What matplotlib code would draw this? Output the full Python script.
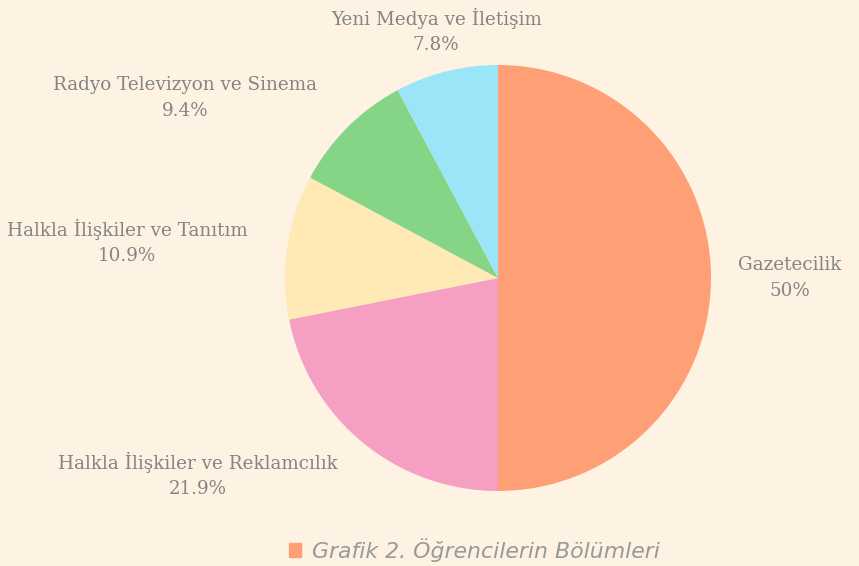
import matplotlib
matplotlib.use("Agg")
import matplotlib.pyplot as plt
from matplotlib.patches import Patch

# bölümler ve öğrenci sayıları (toplam 64)
bolumler = ['Gazetecilik', 'Halkla İlişkiler ve Reklamcılık', 'Halkla İlişkiler ve Tanıtım',
            'Radyo Televizyon ve Sinema', 'Yeni Medya ve İletişim']
ogrenci = [32, 14, 7, 6, 5]
renkler = ['#FF9F75', '#F59FC3', '#FFE9B4', '#86D485', '#9BE5F9']

# etiketlerin pasta merkezine göre konumu (yarıçap birimi)
etiket_konum = [(1.37, 0.0), (-1.41, -0.925), (-1.74, 0.17), (-1.47, 0.845), (-0.29, 1.16)]

bg = '#FEF2E3'
fig = plt.figure(figsize=(8.59, 5.66), dpi=100, facecolor=bg)
W, H = 859, 566
cx, cy, r = 498, 278, 213
ax = fig.add_axes([(cx - r) / W, (H - cy - r) / H, 2 * r / W, 2 * r / H])
ax.set_facecolor(bg)

ax.pie(ogrenci, colors=renkler, startangle=90, counterclock=False, radius=1,
       wedgeprops=dict(linewidth=0))
ax.set_xlim(-1, 1)
ax.set_ylim(-1, 1)
ax.axis('off')

toplam = sum(ogrenci)
for ad, n, (x, y) in zip(bolumler, ogrenci, etiket_konum):
    yuzde = n / toplam * 100
    s = '50%' if abs(yuzde - 50) < 1e-9 else f'{yuzde:.1f}%'
    ax.text(x, y, f'{ad}\n{s}', ha='center', va='center', fontsize=13.2,
            family='DejaVu Serif', color='#858585', linespacing=1.55, clip_on=False)

leg = fig.legend(handles=[Patch(color=renkler[0])], labels=['Grafik 2. Öğrencilerin Bölümleri'],
                 loc='center', bbox_to_anchor=(474 / W, 1 - 550 / H), frameon=False,
                 handlelength=0.55, handleheight=0.55, handletextpad=0.5,
                 prop=dict(family='DejaVu Sans', style='italic', size=15.8))
for t in leg.get_texts():
    t.set_color('#999999')

fig.savefig('out.png', dpi=100, facecolor=bg)
